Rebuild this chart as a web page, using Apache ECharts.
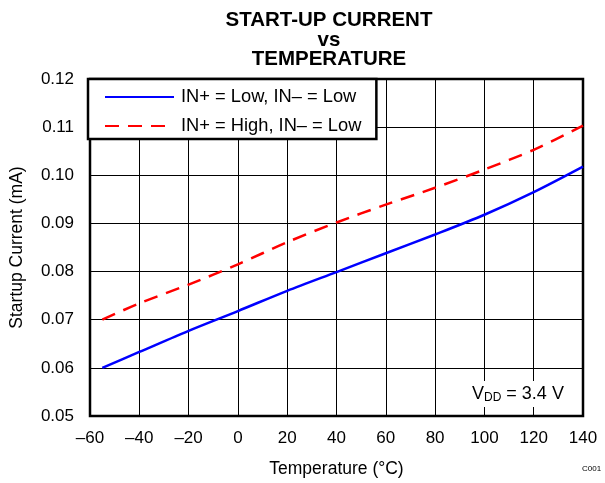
<!DOCTYPE html>
<html><head><meta charset="utf-8">
<script src="https://cdn.jsdelivr.net/npm/echarts@6/dist/echarts.min.js"></script>
<style>html,body{margin:0;padding:0;background:#fff}#c{width:605px;height:483px}</style>
</head><body><div id="c"></div>
<script>
const temps = [-55, -40, -20, 0, 20, 40, 60, 80, 100, 120, 140];
const lowLow = [0.0600, 0.0633, 0.0677, 0.0718, 0.0760, 0.0799, 0.0838, 0.0877, 0.0918, 0.0965, 0.1018];
const highLow = [0.0700, 0.0734, 0.0773, 0.0815, 0.0861, 0.0902, 0.0939, 0.0974, 0.1012, 0.1053, 0.1103];
const seriesNames = ['IN+ = Low, IN\u2013 = Low', 'IN+ = High, IN\u2013 = Low'];
const titleLines = ['START-UP CURRENT', 'vs', 'TEMPERATURE'];
const xName = 'Temperature (\u00B0C)';
const yName = 'Startup Current (mA)';

const font = 'Liberation Sans, Arial, sans-serif';
const chart = echarts.init(document.getElementById('c'));
const pair = (xs, ys) => xs.map((x, i) => [x, ys[i]]);
chart.setOption({
  animation: false,
  backgroundColor: '#fff',
  title: {
    text: titleLines.join('\n'), left: 324, top: 6, textAlign: 'center',
    textStyle: { fontFamily: font, fontSize: 20.5, fontWeight: 'bold', color: '#000', lineHeight: 19.5 }
  },
  grid: { left: 88, top: 79, right: 22, bottom: 66, show: true, borderColor: '#000', borderWidth: 2.5, backgroundColor: 'transparent' },
  legend: {
    orient: 'vertical', left: 88, top: 79, padding: [9, 15, 4, 16],
    backgroundColor: '#fff', borderColor: '#000', borderWidth: 2.5,
    itemWidth: 69, itemHeight: 14, itemGap: 11,
    itemStyle: { opacity: 0 },
    textStyle: { fontFamily: font, fontSize: 18.3, color: '#000', padding: [0, 0, 0, 2] },
    data: seriesNames
  },
  xAxis: {
    type: 'value', min: -60, max: 140, interval: 20,
    name: xName, nameLocation: 'middle', nameGap: 44,
    nameTextStyle: { fontFamily: font, fontSize: 17.5, color: '#000' },
    axisLine: { show: false }, axisTick: { show: false },
    axisLabel: { fontFamily: font, fontSize: 17, color: '#000', margin: 14,
      formatter: v => v < 0 ? '\u2013' + Math.abs(v) : String(v) },
    splitLine: { lineStyle: { color: '#000', width: 1 } }
  },
  yAxis: {
    type: 'value', min: 0.05, max: 0.12, interval: 0.01,
    name: yName, nameLocation: 'middle', nameGap: 64,
    nameTextStyle: { fontFamily: font, fontSize: 17.5, color: '#000' },
    axisLine: { show: false }, axisTick: { show: false },
    axisLabel: { fontFamily: font, fontSize: 17, color: '#000', margin: 16,
      formatter: v => v.toFixed(2) },
    splitLine: { lineStyle: { color: '#000', width: 1 } }
  },
  series: [
    { name: seriesNames[0], type: 'line', data: pair(temps, lowLow), showSymbol: false, symbol: 'none', smooth: 0.3,
      lineStyle: { color: '#0000ff', width: 2.5 }, itemStyle: { color: '#0000ff' }, z: 3 },
    { name: seriesNames[1], type: 'line', data: pair(temps, highLow), showSymbol: false, symbol: 'none', smooth: 0.3,
      lineStyle: { color: '#ff0000', width: 2.5, type: [14, 9] }, itemStyle: { color: '#ff0000' }, z: 3 }
  ],
  graphic: [
    { type: 'text', left: 467, top: 381, z: 10, style: {
        text: '{v|V}{s|DD}{v| = 3.4 V}',
        backgroundColor: '#fff', padding: [2, 5, 2, 5],
        rich: { v: { fontFamily: font, fontSize: 18, fill: '#000', lineHeight: 22 },
                s: { fontFamily: font, fontSize: 12, fill: '#000', lineHeight: 22, padding: [8, 0, 0, 0] } } } },
    { type: 'text', left: 582, top: 465, style: { text: 'C001', fontFamily: font, fontSize: 8, fill: '#000' } }
  ]
});
</script></body></html>
